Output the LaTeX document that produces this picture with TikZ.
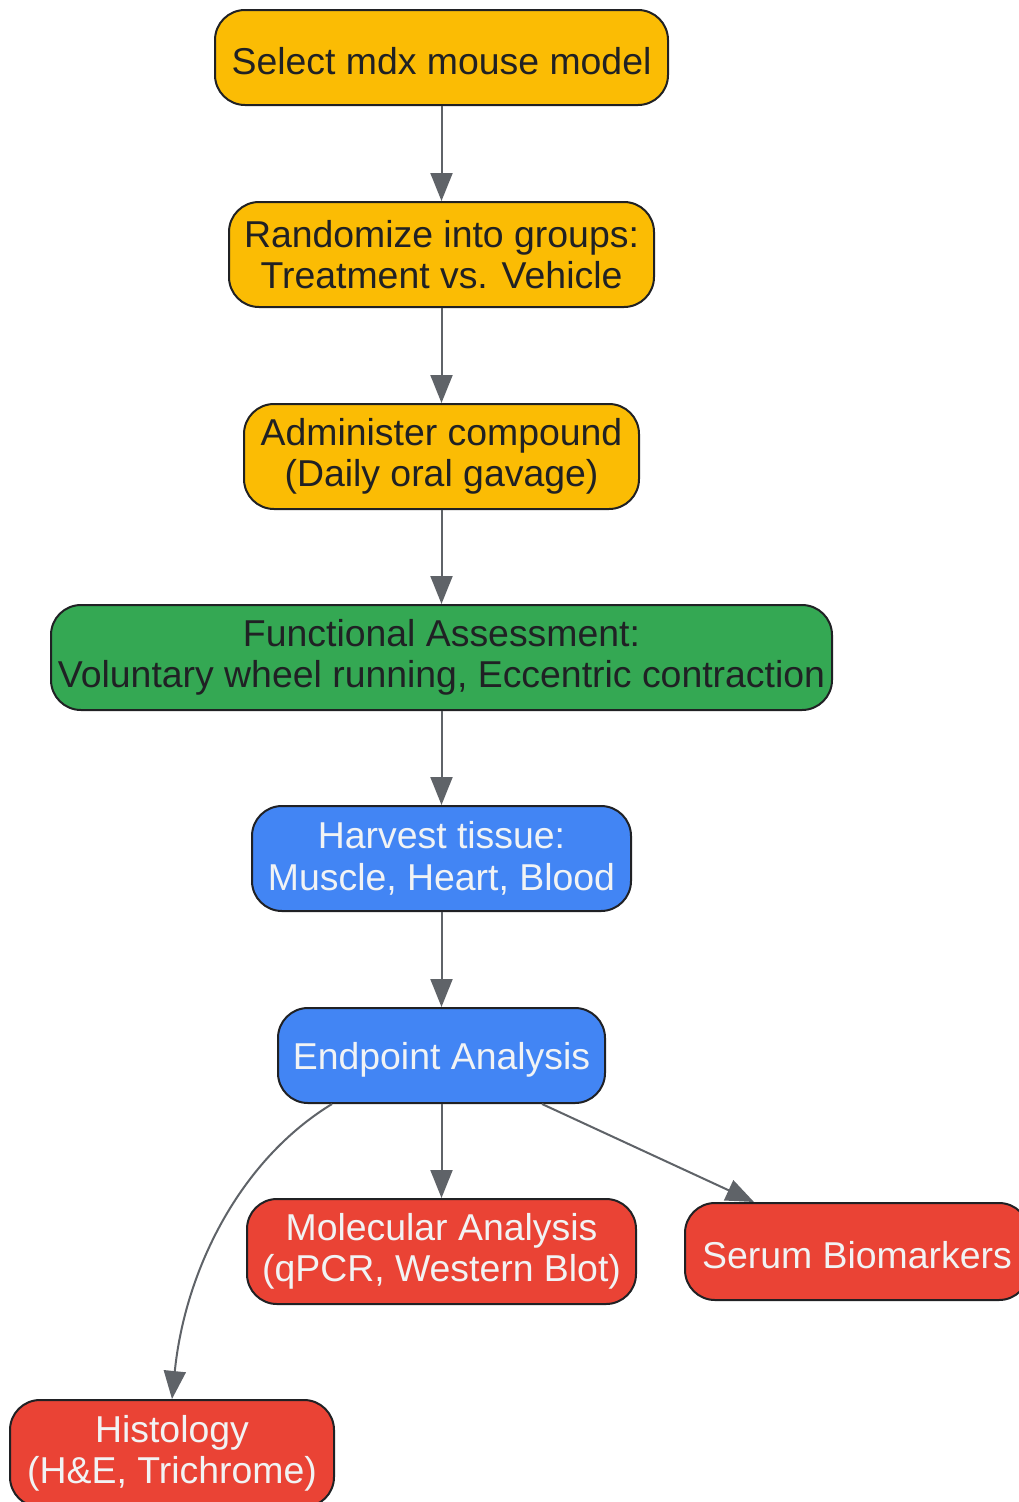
\documentclass[tikz,border=0pt]{standalone}
\usepackage{fontspec}
\setmainfont{Liberation Sans}
\usetikzlibrary{arrows.meta}
\definecolor{cyellow}{HTML}{FBBC04}
\definecolor{cgreen}{HTML}{34A853}
\definecolor{cblue}{HTML}{4285F4}
\definecolor{cred}{HTML}{EA4335}
\definecolor{cborder}{HTML}{202124}
\definecolor{cedge}{HTML}{5F6368}
\definecolor{clight}{HTML}{F1F3F4}
\tikzset{
  box/.style={draw=cborder, line width=2pt, rounded corners=30pt, align=center,
    font=\fontsize{37.4}{41.5}\selectfont, inner sep=0pt,
    execute at begin node={\rule{0pt}{35pt}}},
  darktxt/.style={text=cborder},
  lighttxt/.style={text=clight},
  edge/.style={draw=cedge, line width=2pt, -{Triangle[length=28pt,width=22pt]}},
}
\begin{document}
\begin{tikzpicture}[x=1pt,y=-1pt]
\path[use as bounding box] (0,0) rectangle (1019,1502);
\fill[white] (0,0) rectangle (1019,1502);
\clip (0,0) rectangle (1019,1502);

\node[box, darktxt, fill=cyellow, minimum width=453pt, minimum height=95pt] (s1) at (441.5,57.5) {Select mdx mouse model};
\node[box, darktxt, fill=cyellow, minimum width=425pt, minimum height=105pt] (s2) at (441.5,254.5) {Randomize into groups:\\Treatment vs. Vehicle};
\node[box, darktxt, fill=cyellow, minimum width=395pt, minimum height=105pt] (s3) at (441.5,456.5) {Administer compound\\(Daily oral gavage)};
\node[box, darktxt, fill=cgreen, minimum width=781pt, minimum height=105pt] (s4) at (441.5,657.5) {Functional Assessment:\\Voluntary wheel running, Eccentric contraction};
\node[box, lighttxt, fill=cblue, minimum width=379pt, minimum height=105pt] (s5) at (441.5,858.5) {Harvest tissue:\\Muscle, Heart, Blood};
\node[box, lighttxt, fill=cblue, minimum width=327pt, minimum height=95pt] (s6) at (441.5,1055.5) {Endpoint Analysis};
\node[box, lighttxt, fill=cred, minimum width=389pt, minimum height=105pt] (mol) at (441.5,1251.5) {Molecular Analysis\\(qPCR, Western Blot)};
\node[box, lighttxt, fill=cred, minimum width=344pt, minimum height=97pt] (ser) at (857,1251.5) {Serum Biomarkers};
\node[box, lighttxt, fill=cred, minimum width=324pt, minimum height=107pt] (his) at (172,1453.5) {Histology\\(H\&E, Trichrome)};

\draw[edge] (s1) -- (s2);
\draw[edge] (s2) -- (s3);
\draw[edge] (s3) -- (s4);
\draw[edge] (s4) -- (s5);
\draw[edge] (s5) -- (s6);
\draw[edge] (s6) -- (mol);
\draw[edge] ([xshift=-64pt]s6.south east) -- ([xshift=70pt]ser.north west);
\draw[edge] ([xshift=55pt]s6.south west) .. controls (240,1160) and (185,1270) .. (his.north);
\end{tikzpicture}
\end{document}
